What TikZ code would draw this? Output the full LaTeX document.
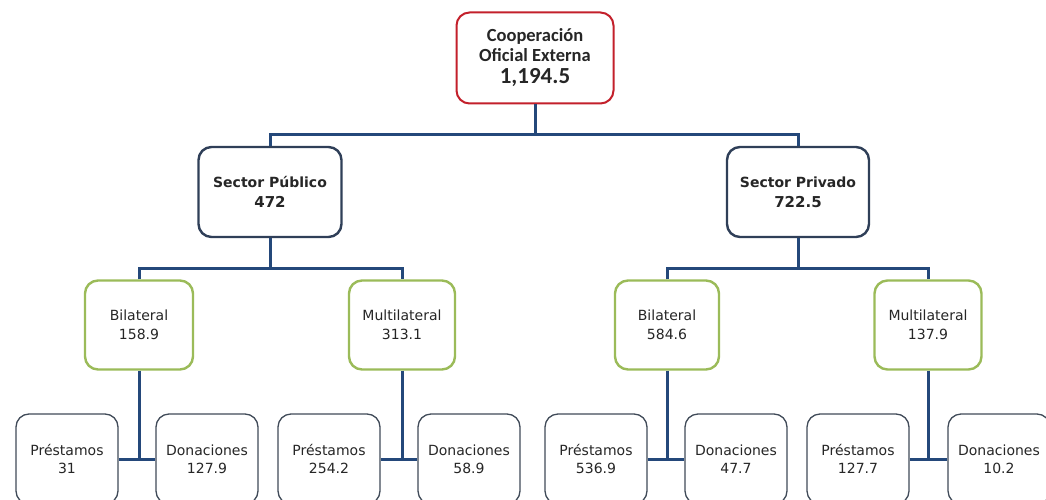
\documentclass[tikz,border=0pt]{standalone}
\usepackage{fontspec}
\setmainfont{DejaVu Sans}
\newfontfamily\topfont{Carlito}
\usepackage{tikz}
\definecolor{BoxRed}{HTML}{C3202B}
\definecolor{LinkBlue}{HTML}{24487A}
\definecolor{SecSlate}{HTML}{2F3F58}
\definecolor{TypGreen}{HTML}{9BBB59}
\definecolor{FinGray}{HTML}{404A58}
\definecolor{TxtGray}{HTML}{262626}

\begin{document}
\begin{tikzpicture}[x=1pt, y=1pt,
  box/.style={rounded corners=13pt, fill=white, align=center, inner sep=0pt, text=TxtGray},
  topbox/.style={box, draw=BoxRed, line width=2pt, minimum width=157pt, minimum height=91pt,
    font=\topfont\bfseries\fontsize{18.5}{19.5}\selectfont},
  secbox/.style={box, draw=SecSlate, line width=2.4pt, minimum width=143pt, minimum height=90pt,
    font=\bfseries\fontsize{14}{20}\selectfont},
  typbox/.style={box, draw=TypGreen, line width=2.4pt, minimum width=106pt, minimum height=89pt,
    font=\fontsize{14}{18.5}\selectfont},
  finbox/.style={box, draw=FinGray, line width=1.3pt, minimum width=102pt, minimum height=90pt,
    font=\fontsize{14}{18}\selectfont},
  link/.style={draw=LinkBlue, line width=3pt, line join=miter}]
\useasboundingbox (0,0) rectangle (1046,-500);
%
\node[topbox] (coop) at (535,-58)
  {Cooperación\\Oficial Externa\\[3pt]{\fontsize{23}{20}\selectfont 1,194.5}};
%
\node[secbox] (spub) at (270,-192) {Sector Público\\{\fontsize{15}{15}\selectfont 472}};
\node[secbox, minimum width=142pt] (spriv) at (798,-192) {Sector Privado\\{\fontsize{15}{15}\selectfont 722.5}};
%
\node[typbox, minimum width=108pt] (bilpub) at (139,-325) {Bilateral\\158.9};
\node[typbox] (multpub) at (402,-325) {Multilateral\\313.1};
\node[typbox, minimum width=104pt] (bilpriv) at (667,-325) {Bilateral\\584.6};
\node[typbox, minimum width=107pt] (multpriv) at (928,-325) {Multilateral\\137.9};
%
\node[finbox] (prest1) at (67,-459) {Préstamos\\31};
\node[finbox] (don1) at (207,-459) {Donaciones\\127.9};
\node[finbox] (prest2) at (329,-459) {Préstamos\\254.2};
\node[finbox] (don2) at (469,-459) {Donaciones\\58.9};
\node[finbox] (prest3) at (596,-459) {Préstamos\\536.9};
\node[finbox] (don3) at (736,-459) {Donaciones\\47.7};
\node[finbox] (prest4) at (858,-459) {Préstamos\\127.7};
\node[finbox] (don4) at (999,-459) {Donaciones\\10.2};
%
\draw[link] (coop.south) -- ++(0,-30) coordinate (bar0);
\draw[link] (spub.north) |- (bar0) -| (spriv.north);
%
\draw[link] (spub.south) -- ++(0,-30) coordinate (bar1);
\draw[link] (bilpub.north) |- (bar1) -| (multpub.north);
\draw[link] (spriv.south) -- ++(0,-30) coordinate (bar2);
\draw[link] (bilpriv.north) |- (bar2) -| (multpriv.north);
%
\draw[link] (bilpub.south) -- (bilpub.south |- prest1.east);
\draw[link] (prest1.east) -- (don1.west);
\draw[link] (multpub.south) -- (multpub.south |- prest2.east);
\draw[link] (prest2.east) -- (don2.west);
\draw[link] (bilpriv.south) -- (bilpriv.south |- prest3.east);
\draw[link] (prest3.east) -- (don3.west);
\draw[link] (multpriv.south) -- (multpriv.south |- prest4.east);
\draw[link] (prest4.east) -- (don4.west);
\end{tikzpicture}
\end{document}
